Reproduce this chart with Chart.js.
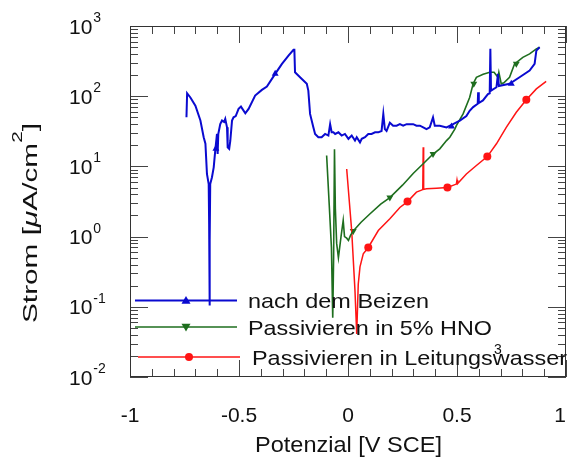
<!DOCTYPE html>
<html>
<head>
<meta charset="utf-8">
<script src="https://cdn.jsdelivr.net/npm/chart.js@4/dist/chart.umd.min.js"></script>
<style>
  body { margin: 0; background: #fff; }
  canvas { display: block; }
</style>
</head>
<body>
<canvas id="chart" width="570" height="460"></canvas>
<script>
// Series (potential in V SCE, current in µA/cm²)
const beizenX = [-0.741, -0.738, -0.723, -0.700, -0.677, -0.662, -0.654, -0.647, -0.639, -0.637, -0.635, -0.634, -0.632,
  -0.624, -0.616, -0.609, -0.601, -0.598, -0.595, -0.586, -0.578, -0.568, -0.563, -0.555, -0.552, -0.545, -0.540,
  -0.532, -0.525, -0.515, -0.502, -0.491, -0.471, -0.456, -0.426, -0.395, -0.372, -0.334, -0.303, -0.273, -0.250,
  -0.246, -0.243, -0.220, -0.189, -0.182, -0.174, -0.159, -0.151, -0.136, -0.121, -0.105, -0.090, -0.082, -0.075,
  -0.067, -0.059, -0.044, -0.029, -0.014, 0.002, 0.009, 0.017, 0.032, 0.040, 0.055, 0.063, 0.078, 0.093, 0.108,
  0.124, 0.139, 0.154, 0.162, 0.169, 0.177, 0.192, 0.207, 0.223, 0.238, 0.253, 0.269, 0.284, 0.299, 0.314, 0.330,
  0.345, 0.360, 0.375, 0.390, 0.398, 0.421, 0.452, 0.482, 0.513, 0.543, 0.558, 0.574, 0.595, 0.597, 0.600, 0.619,
  0.642, 0.650, 0.653, 0.656, 0.681, 0.688, 0.692, 0.741, 0.787, 0.833, 0.856, 0.864, 0.879];
const beizenY = [50, 110, 96, 73, 45, 26, 21, 7.8, 5.6, 1.5, 0.104, 0.9, 5.6,
  7.0, 9.7, 16.8, 29, 15, 29, 40, 45, 43, 47.5, 36, 18.7, 17.8, 23,
  45, 50, 52, 66, 71, 57, 66, 102, 123, 137, 208, 288, 379, 457,
  457, 219, 186, 150, 120, 56, 36, 29, 26, 26, 29, 27.5, 40, 30.6,
  30.6, 29, 30.6, 27.5, 29, 24.7, 26, 27.5, 23.3, 26, 22, 24.7, 26, 29, 29,
  30.6, 30.6, 32, 56, 34, 32, 42, 38, 38, 40, 38, 40, 40, 40, 38, 38,
  36, 34, 36, 50, 38, 38, 36, 40, 45, 52, 62, 70, 78, 114, 80, 87,
  107, 110, 472, 120, 134, 208, 140, 150, 186, 232, 288, 446, 497];

const hnoX = [-0.098, -0.086, -0.076, -0.070, -0.066, -0.062, -0.058, -0.052, -0.044, -0.032, -0.022, -0.016, -0.006,
  0.002, 0.012, 0.024, 0.060, 0.100, 0.150, 0.192, 0.250, 0.300, 0.345, 0.390, 0.421, 0.452, 0.467, 0.490, 0.497,
  0.528, 0.558, 0.574, 0.589, 0.620, 0.650, 0.670, 0.688, 0.692, 0.703, 0.715, 0.741, 0.764, 0.802, 0.833, 0.864, 0.879];
const hnoY = [14.3, 2.8, 0.7, 0.07, 0.5, 17.5, 2.5, 0.8, 0.5, 1.0, 1.7, 1.0, 0.95,
  0.88, 1.05, 1.2, 1.6, 2.1, 2.9, 3.6, 5.4, 8, 10.9, 15, 17.8, 23.3, 26, 34, 38,
  56, 96, 150, 186, 205, 219, 219, 186, 219, 150, 155, 186, 288, 358, 400, 472, 497];

const wasserX = [-0.006, 0.017, 0.032, 0.040, 0.047, 0.055, 0.070, 0.093, 0.139, 0.192, 0.238, 0.273, 0.314, 0.337,
  0.343, 0.345, 0.347, 0.360, 0.406, 0.456, 0.497, 0.500, 0.503, 0.543, 0.589, 0.639, 0.681, 0.726, 0.772, 0.818, 0.864, 0.909];
const wasserY = [9.2, 1.2, 0.17, 0.041, 0.21, 0.37, 0.57, 0.70, 1.22, 1.79, 2.6, 3.15, 4.3, 4.6,
  4.7, 18.7, 4.7, 4.8, 4.9, 5.0, 5.6, 6.4, 5.7, 7.8, 10.3, 13.8, 21, 36, 59, 89, 127, 163];

// Marker positions along each curve
const beizenMarkX = [-0.606, -0.334, 0.475, 0.749];
const beizenMarkY = [17.8, 208, 37, 150];
const hnoMarkX = [0.024, 0.192, 0.390, 0.577, 0.772];
const hnoMarkY = [1.2, 3.6, 15, 150, 290];
const wasserMarkX = [0.093, 0.273, 0.456, 0.639, 0.818];
const wasserMarkY = [0.70, 3.15, 5.0, 13.8, 89];

const seriesNames = ['nach dem Beizen', 'Passivieren in 5% HNO', 'Passivieren in Leitungswasser'];
const xTickValues = [-1, -0.5, 0, 0.5, 1];
const xTickLabels = ['-1', '-0.5', '0', '0.5', '1'];
const yTickExponents = [-2, -1, 0, 1, 2, 3];

const BLUE = '#0a0ad0';
const GREEN = '#1e6e1e';
const RED = '#ff1414';
const FONT = '"Liberation Sans", Arial, Helvetica, sans-serif';

function pts(xs, ys) {
  return xs.map((x, i) => ({ x: x, y: ys[i] }));
}

// Draw text squeezed or stretched to a measured width
function fitText(ctx, str, x, y, size, width, align) {
  ctx.save();
  ctx.font = size + 'px ' + FONT;
  const w = ctx.measureText(str).width;
  const k = width ? width / w : 1;
  ctx.translate(x, y);
  ctx.scale(k, 1);
  ctx.textAlign = align || 'left';
  ctx.textBaseline = 'alphabetic';
  ctx.fillText(str, 0, 0);
  ctx.restore();
}

function marker(ctx, style, x, y, r, color) {
  ctx.fillStyle = color;
  ctx.beginPath();
  if (style === 'circle') {
    ctx.arc(x, y, r, 0, Math.PI * 2);
  } else if (style === 'up') {
    ctx.moveTo(x, y - r); ctx.lineTo(x + r, y + r * 0.7); ctx.lineTo(x - r, y + r * 0.7);
  } else {
    ctx.moveTo(x, y + r); ctx.lineTo(x + r, y - r * 0.7); ctx.lineTo(x - r, y - r * 0.7);
  }
  ctx.closePath();
  ctx.fill();
}

// Frame, inward ticks, labels, titles and the in-plot legend
const framePlugin = {
  id: 'frame',
  afterDatasetsDraw(chart) {
    const ctx = chart.ctx;
    const a = chart.chartArea;
    const xs = chart.scales.x, ys = chart.scales.y;
    ctx.save();
    ctx.strokeStyle = '#444';
    ctx.lineWidth = 1;

    function seg(x1, y1, x2, y2) {
      ctx.beginPath(); ctx.moveTo(x1, y1); ctx.lineTo(x2, y2); ctx.stroke();
    }

    // x ticks every 0.1, long every 0.5
    for (let i = -10; i <= 10; i++) {
      const px = Math.round(xs.getPixelForValue(i / 10)) + 0.5;
      const len = i % 5 === 0 ? 17 : 8;
      seg(px, a.bottom, px, a.bottom - len);
      seg(px, a.top, px, a.top + len);
    }
    // y ticks: decades long, 2..9 short
    yTickExponents.forEach(e => {
      const py = Math.round(ys.getPixelForValue(Math.pow(10, e))) + 0.5;
      seg(a.left, py, a.left + 18, py);
      seg(a.right, py, a.right - 18, py);
      if (e < 3) {
        for (let k = 2; k <= 9; k++) {
          const q = Math.round(ys.getPixelForValue(k * Math.pow(10, e))) + 0.5;
          seg(a.left, q, a.left + 8, q);
          seg(a.right, q, a.right - 8, q);
        }
      }
    });
    ctx.strokeStyle = '#333';
    ctx.strokeRect(a.left + 0.5, a.top + 0.5, a.right - a.left - 1, a.bottom - a.top - 1);

    ctx.fillStyle = '#111';
    // x tick labels
    xTickValues.forEach((v, i) => {
      let px = xs.getPixelForValue(v);
      fitText(ctx, xTickLabels[i], Math.min(px, 566), 422, 21, 0, i === 4 ? 'right' : 'center');
    });
    // y tick labels: 10 with raised exponent
    yTickExponents.forEach(e => {
      const py = ys.getPixelForValue(Math.pow(10, e));
      ctx.font = '21px ' + FONT;
      const w = ctx.measureText('10').width;
      fitText(ctx, '10', 69, py + 7.5, 21, 0, 'left');
      fitText(ctx, String(e), 69 + w + 1, py - 4, 14, 0, 'left');
    });

    // x axis title
    fitText(ctx, 'Potenzial [V SCE]', 255, 452, 22, 187, 'left');

    // y axis title, rotated
    ctx.save();
    ctx.translate(37, 323);
    ctx.rotate(-Math.PI / 2);
    const parts = [
      ['Strom [', '20px ' + FONT, 0],
      ['\u03bc', 'italic 20px ' + FONT, 0],
      ['A/cm', '20px ' + FONT, 0],
      ['2', '14px ' + FONT, -15],
      [']', '20px ' + FONT, 0]
    ];
    let total = 0;
    parts.forEach(p => { ctx.font = p[1]; total += ctx.measureText(p[0]).width; });
    ctx.scale(200 / total, 1);
    let cx = 0;
    ctx.textBaseline = 'alphabetic';
    parts.forEach(p => {
      ctx.font = p[1];
      ctx.fillText(p[0], cx, p[2]);
      cx += ctx.measureText(p[0]).width;
    });
    ctx.restore();

    // legend
    const rows = [
      { color: BLUE, width: 2, y: 300.5, x1: 135, x2: 237, mx: 186, style: 'up', tx: 248, tw: 181 },
      { color: GREEN, width: 1.6, y: 327, x1: 135, x2: 237, mx: 186, style: 'down', tx: 248, tw: 244 },
      { color: RED, width: 1.6, y: 357, x1: 138, x2: 240, mx: 189, style: 'circle', tx: 252, tw: 315 }
    ];
    rows.forEach((r, i) => {
      ctx.strokeStyle = r.color;
      ctx.lineWidth = r.width;
      seg(r.x1, r.y, r.x2, r.y);
      marker(ctx, r.style, r.mx, r.y, r.style === 'circle' ? 4 : 4.5, r.color);
      ctx.fillStyle = '#111';
      fitText(ctx, seriesNames[i], r.tx, r.y + 7.5, 21, r.tw, 'left');
    });
    ctx.fillStyle = '#111';
    fitText(ctx, '3', 494, 354, 14, 0, 'left');
    ctx.restore();
  }
};

function lineSet(xs, ys, color, width) {
  return {
    data: pts(xs, ys),
    showLine: true,
    borderColor: color,
    borderWidth: width,
    pointRadius: 0,
    tension: 0
  };
}

function markSet(xs, ys, color, style, rotation, radius) {
  return {
    data: pts(xs, ys),
    showLine: false,
    pointStyle: style,
    rotation: rotation,
    pointRadius: radius,
    backgroundColor: color,
    borderColor: color,
    borderWidth: 0
  };
}

new Chart(document.getElementById('chart'), {
  type: 'scatter',
  data: {
    datasets: [
      lineSet(beizenX, beizenY, BLUE, 2),
      lineSet(hnoX, hnoY, GREEN, 1.6),
      lineSet(wasserX, wasserY, RED, 1.5),
      markSet(beizenMarkX, beizenMarkY, BLUE, 'triangle', 0, 4),
      markSet(hnoMarkX, hnoMarkY, GREEN, 'triangle', 180, 4),
      markSet(wasserMarkX, wasserMarkY, RED, 'circle', 0, 4)
    ]
  },
  options: {
    responsive: false,
    animation: false,
    devicePixelRatio: 1,
    layout: { padding: { left: 130, top: 26, right: 3, bottom: 83 } },
    scales: {
      x: { type: 'linear', min: -1, max: 1, display: false },
      y: { type: 'logarithmic', min: 0.01, max: 1000, display: false }
    },
    plugins: {
      legend: { display: false },
      tooltip: { enabled: false }
    }
  },
  plugins: [framePlugin]
});
</script>
</body>
</html>
